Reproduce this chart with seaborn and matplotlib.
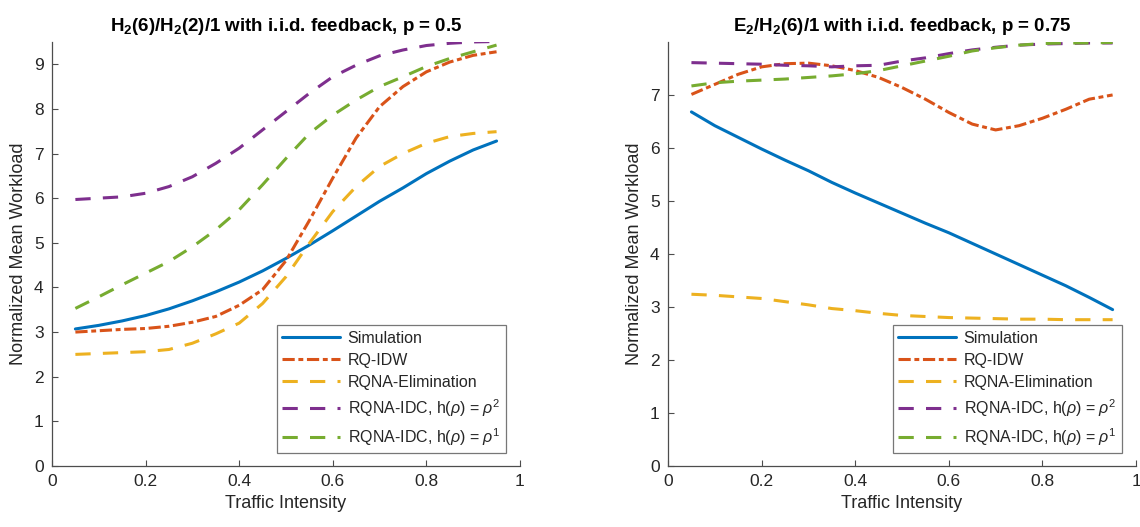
import numpy as np
import pandas as pd
import matplotlib
matplotlib.use("Agg")
import matplotlib.pyplot as plt
import seaborn as sns

rho = [0.05, 0.10, 0.15, 0.20, 0.25, 0.30, 0.35, 0.40, 0.45, 0.50,
       0.55, 0.60, 0.65, 0.70, 0.75, 0.80, 0.85, 0.90, 0.95]

methods = ["Simulation", "RQ-IDW", "RQNA-Elimination",
           r"RQNA-IDC, h($\rho$) = $\rho^2$", r"RQNA-IDC, h($\rho$) = $\rho^1$"]

# Left panel: H2(6)/H2(2)/1, p = 0.5
left_sim = [3.07, 3.15, 3.25, 3.37, 3.52, 3.70, 3.90, 4.12, 4.37, 4.65,
            4.95, 5.27, 5.60, 5.93, 6.23, 6.55, 6.83, 7.08, 7.28]
left_idw = [3.00, 3.03, 3.06, 3.08, 3.13, 3.22, 3.35, 3.60, 3.95, 4.60,
            5.50, 6.45, 7.35, 8.05, 8.50, 8.83, 9.05, 9.20, 9.28]
left_elim = [2.50, 2.52, 2.54, 2.56, 2.61, 2.75, 2.96, 3.20, 3.64, 4.24,
             4.99, 5.70, 6.26, 6.71, 7.00, 7.23, 7.38, 7.45, 7.49]
left_idc2 = [5.97, 6.00, 6.03, 6.11, 6.26, 6.48, 6.78, 7.12, 7.53, 7.94,
             8.35, 8.72, 8.98, 9.19, 9.32, 9.42, 9.47, 9.50, 9.51]
left_idc1 = [3.53, 3.79, 4.06, 4.32, 4.58, 4.91, 5.29, 5.74, 6.30, 6.89,
             7.45, 7.86, 8.20, 8.50, 8.72, 8.95, 9.13, 9.28, 9.43]

# Right panel: E2/H2(6)/1, p = 0.75
right_sim = [6.68, 6.42, 6.20, 5.98, 5.77, 5.57, 5.35, 5.15, 4.96, 4.77,
             4.58, 4.40, 4.20, 4.00, 3.80, 3.60, 3.40, 3.18, 2.95]
right_idw = [7.01, 7.20, 7.39, 7.53, 7.59, 7.60, 7.55, 7.46, 7.33, 7.14,
             6.92, 6.67, 6.45, 6.34, 6.42, 6.56, 6.73, 6.92, 7.00]
right_elim = [3.24, 3.22, 3.19, 3.16, 3.10, 3.04, 2.97, 2.93, 2.88, 2.84,
              2.82, 2.80, 2.79, 2.78, 2.77, 2.77, 2.76, 2.76, 2.76]
right_idc2 = [7.61, 7.60, 7.59, 7.58, 7.56, 7.55, 7.53, 7.55, 7.56, 7.64,
              7.70, 7.78, 7.85, 7.90, 7.94, 7.96, 7.97, 7.98, 7.98]
right_idc1 = [7.17, 7.23, 7.26, 7.28, 7.30, 7.33, 7.36, 7.40, 7.46, 7.55,
              7.64, 7.73, 7.83, 7.89, 7.94, 7.97, 7.98, 7.98, 7.99]

titles = ["H$_{\\mathbf{2}}$(6)/H$_{\\mathbf{2}}$(2)/1 with i.i.d. feedback, p = 0.5",
          "E$_{\\mathbf{2}}$/H$_{\\mathbf{2}}$(6)/1 with i.i.d. feedback, p = 0.75"]
x_ticks = [0, 0.2, 0.4, 0.6, 0.8, 1]
x_ticklabels = ["0", "0.2", "0.4", "0.6", "0.8", "1"]
left_yticks = [0, 1, 2, 3, 4, 5, 6, 7, 8, 9]
right_yticks = [0, 1, 2, 3, 4, 5, 6, 7]

colors = ["#0072BD", "#D95319", "#EDB120", "#7E2F8E", "#77AC30"]
dash_styles = ["", (4.0, 1.2, 1.6, 1.2), (5.0, 4.0), (5.0, 4.0), (5.0, 4.0)]


def make_df(series):
    rows = []
    for m, vals in zip(methods, series):
        for r, v in zip(rho, vals):
            rows.append({"rho": r, "val": v, "Method": m})
    return pd.DataFrame(rows)


sns.set_theme(style="white")
plt.rcParams["font.family"] = ["Liberation Sans", "DejaVu Sans"]
plt.rcParams["mathtext.fontset"] = "custom"
plt.rcParams["mathtext.rm"] = "Liberation Sans"
plt.rcParams["mathtext.it"] = "Liberation Sans:italic"
plt.rcParams["mathtext.bf"] = "Liberation Sans:bold"

fig = plt.figure(figsize=(11.4, 5.27), dpi=100)
axL = fig.add_axes([0.0456, 0.1158, 0.4105, 0.8046])
axR = fig.add_axes([0.586, 0.1158, 0.4105, 0.8046])

panels = [
    (axL, [left_sim, left_idw, left_elim, left_idc2, left_idc1], 9.5, left_yticks, titles[0]),
    (axR, [right_sim, right_idw, right_elim, right_idc2, right_idc1], 8.0, right_yticks, titles[1]),
]

axis_col = "#4d4d4d"
text_col = "#262626"

for ax, series, ytop, yticks, title in panels:
    df = make_df(series)
    sns.lineplot(data=df, x="rho", y="val", hue="Method", style="Method",
                 hue_order=methods, style_order=methods,
                 palette=dict(zip(methods, colors)),
                 dashes=dict(zip(methods, dash_styles)),
                 linewidth=2.2, ax=ax, legend=False)
    ax.set_xlim(0, 1)
    ax.set_ylim(0, ytop)
    ax.set_xticks(x_ticks)
    ax.set_xticklabels(x_ticklabels)
    ax.set_yticks(yticks)
    ax.tick_params(bottom=True, left=True, direction="in", length=4, width=0.8,
                   colors=axis_col, labelcolor=text_col, labelsize=12.5, pad=6)
    for side in ["top", "right"]:
        ax.spines[side].set_visible(False)
    for side in ["left", "bottom"]:
        ax.spines[side].set_color(axis_col)
        ax.spines[side].set_linewidth(0.9)
    ax.set_xlabel("Traffic Intensity", fontsize=13, color=text_col, labelpad=4)
    ax.set_ylabel("Normalized Mean Workload", fontsize=13, color=text_col, labelpad=5)
    ax.set_title(title, fontsize=13.5, fontweight="bold", color="black", pad=8)
    handles = ax.get_lines()[:5]
    leg = ax.legend(handles, methods, loc="lower right",
                    bbox_to_anchor=(0.97, 0.03),
                    fontsize=11.5, frameon=True, fancybox=False,
                    handlelength=3.6, handletextpad=0.5,
                    labelspacing=0.45, borderpad=0.35, borderaxespad=0.0)
    leg.get_frame().set_edgecolor("#555555")
    leg.get_frame().set_linewidth(0.9)
    for t in leg.get_texts():
        t.set_color(text_col)

fig.savefig("out.png", dpi=100)
